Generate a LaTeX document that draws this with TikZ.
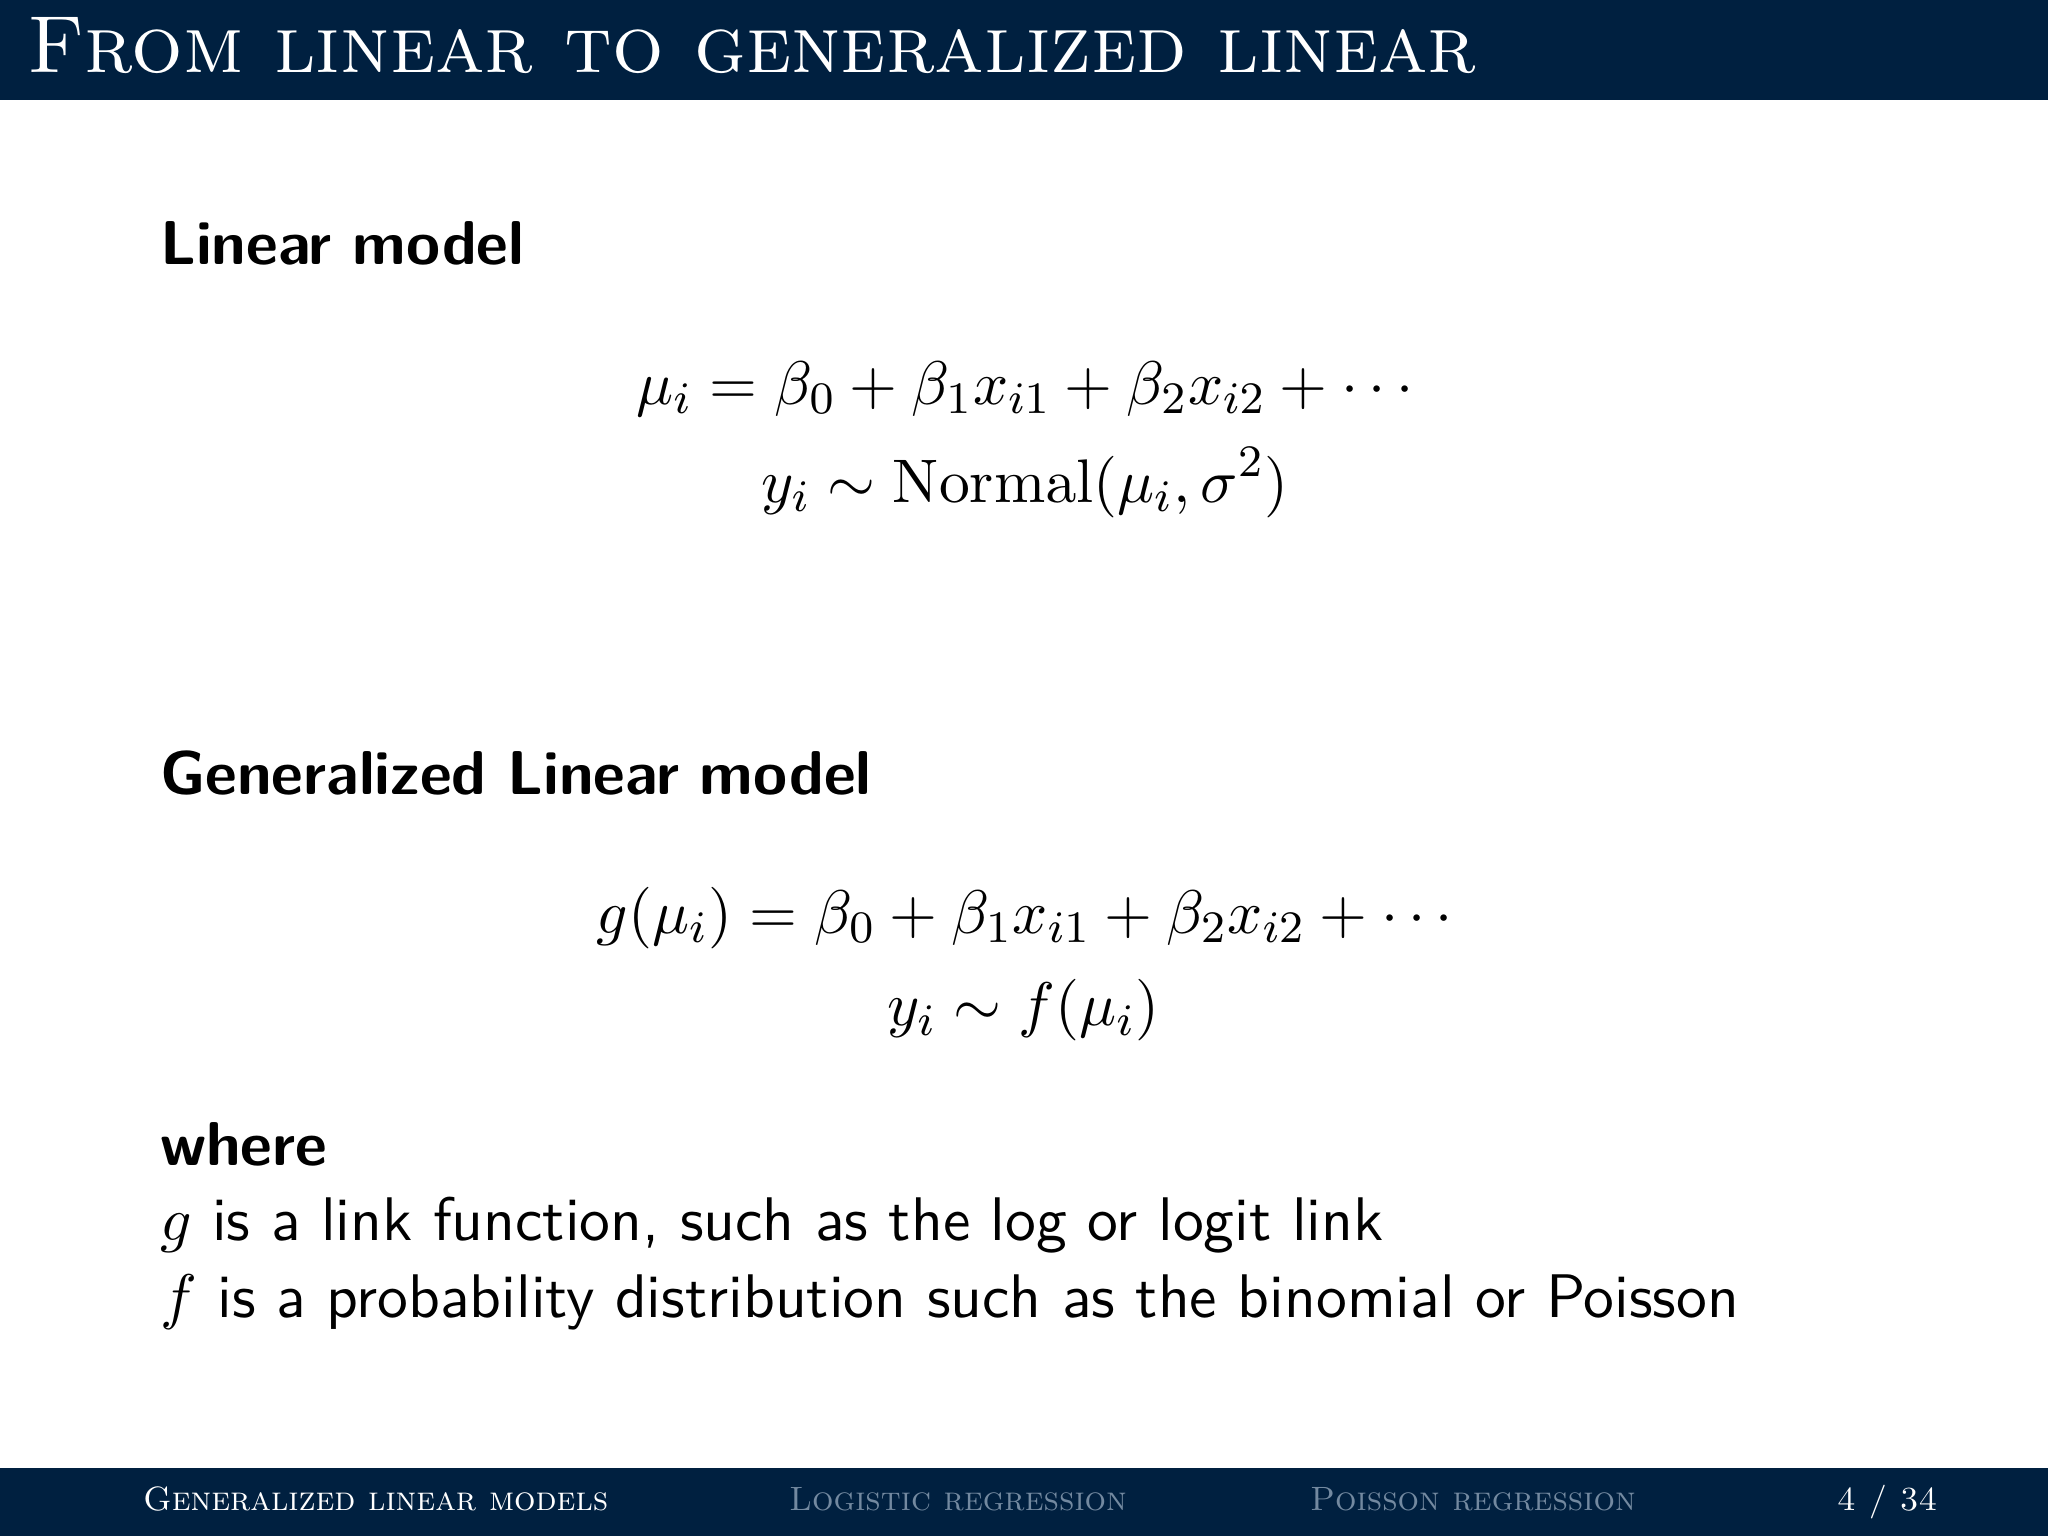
\documentclass[tikz,border=0pt]{standalone}
\usepackage{amsmath}
\definecolor{navy1}{RGB}{0,32,64}
\definecolor{gray1}{RGB}{115,137,160}
\tikzstyle{bar} = [fill=navy1, draw=none, rectangle, inner sep=0pt, minimum width=128.5mm]
\tikzstyle{titletext} = [text=white, inner sep=0pt, anchor=base west, font=\fontsize{14.4}{16}\selectfont\scshape]
\tikzstyle{navtext} = [inner sep=0pt, anchor=base west, font=\fontsize{6}{8}\selectfont\scshape]
\tikzstyle{line} = [inner sep=0pt, text width=100mm, align=left, text height=3mm, text depth=1mm, font=\fontsize{10.95}{13.6}\selectfont\sffamily]
\tikzstyle{head} = [line, font=\fontsize{11.01}{13.6}\selectfont\sffamily\bfseries]
\tikzstyle{formula} = [inner sep=0pt, text height=4mm, text depth=1.5mm, font=\fontsize{10.95}{13.6}\selectfont]

\begin{document}
\begin{tikzpicture}[x=0.0625mm, y=-0.0625mm, node distance=6.125mm]
	\useasboundingbox (0,0) rectangle (2048,1536);
	\node [bar, minimum height=6.4063mm, anchor=north west] (topbar) at (-4,-4) {};
	\node [bar, minimum height=4.4375mm, anchor=south west] (bottombar) at (-4,1540) {};
	\node [titletext] (title) at (26,72) {From linear to generalized linear};

	% Linear model
	\node [head, anchor=base west] (linearhead) at (159,265) {Linear model};
	\node [formula, anchor=base] (linearmean) at (1030,404) {$\displaystyle \mu_i = \beta_0 + \beta_1 x_{i1} + \beta_2 x_{i2} + \cdots$};
	\node [formula, below of=linearmean, xshift=-0.3mm] (lineardist) {$\displaystyle y_i \sim \mathrm{Normal}(\mu_i, \sigma^2)$};

	% Generalized
	\node [head, anchor=base west] (genhead) at (159,794) {Generalized Linear model};
	\node [formula, anchor=base] (genmean) at (1030,933) {$\displaystyle g(\mu_i) = \beta_0 + \beta_1 x_{i1} + \beta_2 x_{i2} + \cdots$};
	\node [formula, below of=genmean, xshift=-0.41mm, node distance=5.8mm] (gendist) {$\displaystyle y_i \sim f(\mu_i)$};

	% Where
	\node [head, anchor=base west] (where) at (159,1165) {where};
	\node [line, anchor=base west] (linkline) at (159,1240) {$g$ is a link function, such as the log or logit link};
	\node [line, below of=linkline, node distance=4.8125mm] (distline) {$f$ is a probability distribution such as the binomial or Poisson};

	% Navigation
	\node [navtext, text=white] (navglm) at (142,1510) {Generalized linear models};
	\node [navtext, text=gray1] (navlogit) at (788,1510) {Logistic regression};
	\node [navtext, text=gray1] (navpoisson) at (1309,1510) {Poisson regression};
	\node [navtext, text=white] (navpage) at (1836,1510) {4 / 34};
\end{tikzpicture}
\end{document}
